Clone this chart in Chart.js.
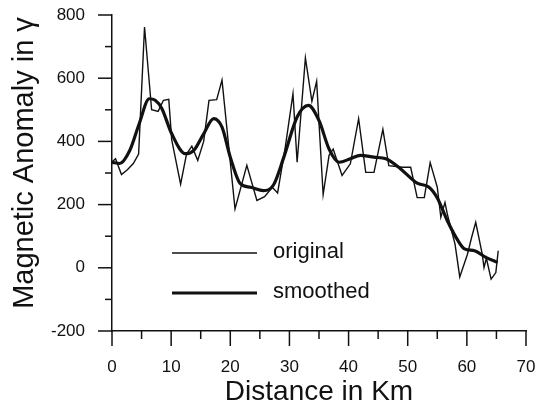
<!DOCTYPE html>
<html>
<head>
<meta charset="utf-8">
<script src="https://cdn.jsdelivr.net/npm/chart.js@4/dist/chart.umd.min.js"></script>
<style>
  html, body { margin: 0; padding: 0; background: #fff; }
  #wrap { width: 550px; height: 408px; position: relative; }
</style>
</head>
<body>
<div id="wrap"><canvas id="c" width="550" height="408"></canvas></div>
<script>
// ---- data ----
const originalKm = [0, 0.6, 1.6, 2.6, 3.6, 4.5, 5.5, 6.7, 7.8, 8.7, 9.6, 10.1, 11.6, 12.6, 13.5, 14.5, 15.5, 16.4, 17.7, 18.6,
  20.8, 22.8, 24.5, 25.8, 27.1, 28.0, 29.3, 30.6, 31.3, 32.7, 33.8, 34.6, 35.7, 36.7, 37.4, 38.9, 40.3, 41.7, 42.9, 44.3,
  45.8, 46.8, 49.1, 50.5, 51.6, 52.8, 53.8, 55.0, 55.6, 56.3, 56.7, 58.0, 58.8, 60.1, 60.8, 61.5, 62.6, 62.9, 63.3, 64.1, 64.9, 65.3];
const originalVal = [335, 345, 295, 310, 330, 360, 762, 500, 495, 530, 533, 405, 265, 360, 385, 340, 400, 530, 532, 594,
  186, 324, 213, 225, 255, 237, 382, 551, 334, 664, 527, 590, 232, 356, 376, 292, 329, 472, 302, 302,
  438, 323, 318, 318, 222, 222, 333, 255, 160, 207, 170, 75, -29, 43, 96, 144, 43, 1, 30, -36, -15, 54];

const smoothedKm = [0, 1.3, 3, 4.6, 6.3, 7.3, 8.4, 10.1, 12.4, 13.8, 15.5, 17.2, 18.6, 20, 21.7, 23.4, 25.6, 27.3, 29,
  31.3, 33.2, 35, 36.7, 38.4, 40.3, 42, 44.3, 46.3, 48.8, 51.6, 53.6, 55, 56.7, 58.5, 59.6, 61.3, 63.2, 65.2];
const smoothedVal = [334, 330, 371, 456, 535, 530, 505, 424, 361, 371, 424, 472, 445, 350, 266, 255, 244, 262, 347,
  477, 514, 466, 376, 334, 345, 356, 350, 345, 313, 268, 255, 221, 149, 86, 60, 54, 33, 17];

const xTickLabels = ['0', '10', '20', '30', '40', '50', '60', '70'];
const yTickLabels = ['-200', '0', '200', '400', '600', '800'];
const seriesNames = ['original', 'smoothed'];
const xTitle = 'Distance in Km';
const yTitle = 'Magnetic Anomaly in \u03B3';

const toPoints = (xs, ys) => xs.map((x, i) => ({ x: x, y: ys[i] }));
const FONT = '"Liberation Sans", Arial, Helvetica, sans-serif';
const INK = '#111';

const tickPlugin = {
  id: 'ticksAndText',
  afterDraw(chart) {
    const ctx = chart.ctx;
    const xs = chart.scales.x, ys = chart.scales.y;
    const area = chart.chartArea;
    ctx.save();
    ctx.strokeStyle = INK;
    ctx.lineWidth = 1.5;
    // x ticks (downwards)
    xs.ticks.forEach(t => {
      const px = xs.getPixelForValue(t.value);
      const major = xTickLabels.includes(String(t.value));
      ctx.beginPath();
      ctx.moveTo(px, area.bottom);
      ctx.lineTo(px, area.bottom + (major ? 15 : 8));
      ctx.stroke();
    });
    // y ticks (leftwards)
    ys.ticks.forEach(t => {
      const py = ys.getPixelForValue(t.value);
      const major = yTickLabels.includes(String(t.value));
      ctx.beginPath();
      ctx.moveTo(area.left, py);
      ctx.lineTo(area.left - (major ? 14 : 7), py);
      ctx.stroke();
    });
    // axis titles
    ctx.fillStyle = INK;
    ctx.font = '28px ' + FONT;
    ctx.textAlign = 'center';
    ctx.textBaseline = 'alphabetic';
    ctx.fillText(xTitle, (area.left + area.right) / 2, 400);
    ctx.save();
    ctx.translate(33, 163);
    ctx.rotate(-Math.PI / 2);
    ctx.font = '29px ' + FONT;
    ctx.fillText(yTitle, 0, 0);
    ctx.restore();
    // legend
    const items = [
      { name: seriesNames[0], w: 1.4, y: 253 },
      { name: seriesNames[1], w: 3.2, y: 293 }
    ];
    ctx.font = '22px ' + FONT;
    ctx.textAlign = 'left';
    ctx.textBaseline = 'middle';
    items.forEach(it => {
      ctx.lineWidth = it.w;
      ctx.beginPath();
      ctx.moveTo(172, it.y);
      ctx.lineTo(257, it.y);
      ctx.stroke();
      ctx.fillText(it.name, 273, it.y - 1);
    });
    ctx.restore();
  }
};

new Chart(document.getElementById('c'), {
  type: 'line',
  data: {
    datasets: [
      {
        label: seriesNames[0],
        data: toPoints(originalKm, originalVal),
        borderColor: INK,
        borderWidth: 1.4,
        pointRadius: 0,
        tension: 0,
        fill: false
      },
      {
        label: seriesNames[1],
        data: toPoints(smoothedKm, smoothedVal),
        borderColor: INK,
        borderWidth: 3.2,
        pointRadius: 0,
        cubicInterpolationMode: 'monotone',
        fill: false
      }
    ]
  },
  options: {
    responsive: false,
    animation: false,
    devicePixelRatio: 1,
    layout: { padding: { top: 15, right: 24, left: 0, bottom: 0 } },
    plugins: { legend: { display: false }, tooltip: { enabled: false } },
    scales: {
      x: {
        type: 'linear',
        min: 0, max: 70,
        grid: { display: false },
        border: { display: true, color: INK, width: 1.5 },
        ticks: {
          stepSize: 5,
          autoSkip: false,
          maxRotation: 0,
          padding: 18,
          color: INK,
          font: { family: FONT, size: 17 },
          callback: v => (xTickLabels.includes(String(v)) ? String(v) : '')
        },
        afterFit: s => { s.height = 77; s.paddingLeft = 0; s.paddingRight = 0; }
      },
      y: {
        type: 'linear',
        min: -200, max: 800,
        grid: { display: false },
        border: { display: true, color: INK, width: 1.5 },
        ticks: {
          stepSize: 100,
          autoSkip: false,
          padding: 19,
          color: INK,
          font: { family: FONT, size: 17 },
          callback: v => (yTickLabels.includes(String(v)) ? String(v) : '')
        },
        afterFit: s => { s.width = 112; s.paddingTop = 0; s.paddingBottom = 0; }
      }
    }
  },
  plugins: [tickPlugin]
});
</script>
</body>
</html>
